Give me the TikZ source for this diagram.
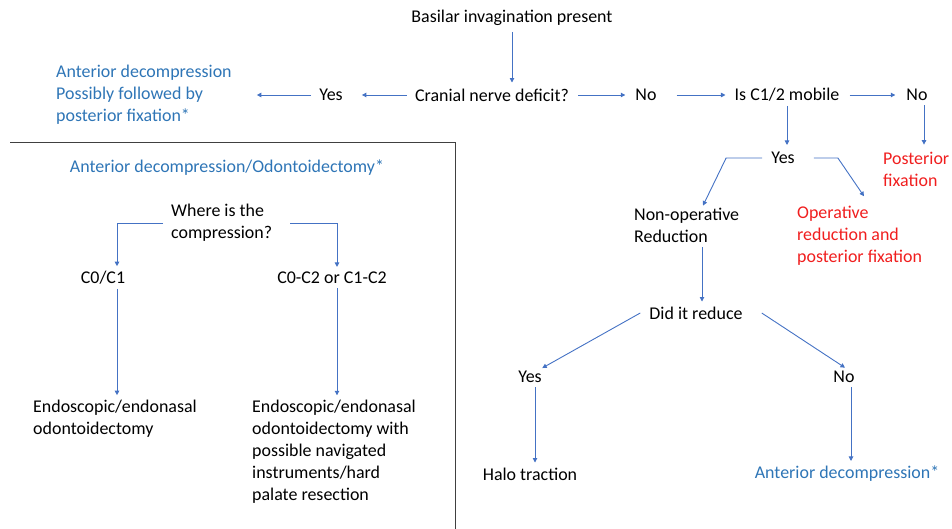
\documentclass[tikz,border=0pt]{standalone}
\usepackage{fontspec}
\setmainfont{Carlito}
\usepackage{tikz}
\usetikzlibrary{positioning, calc, arrows.meta}

\definecolor{arrowblue}{RGB}{68,114,196}
\definecolor{textblue}{RGB}{46,117,182}
\definecolor{textred}{RGB}{240,30,30}
\definecolor{boxgray}{RGB}{64,64,64}

\tikzset{
  txt/.style={inner sep=0pt, font=\fontsize{18}{22}\selectfont},
  multi/.style={txt, align=left, anchor=west},
  flow/.style={draw=arrowblue, line width=0.9bp, -{Triangle[length=4.5bp,width=4.5bp]}},
}

\begin{document}
\begin{tikzpicture}[x=1bp, y=-1bp]
\useasboundingbox (0,0) rectangle (952,529);

\node[txt] (basilar) at (512,18) {Basilar invagination present};
\node[txt] (cranial) at (492,95) {Cranial nerve deficit?};
\node[txt] (yesA) at (331,95) {Yes};
\node[multi, textblue] (antdecA) at (56,95) {Anterior decompression\\Possibly followed by\\posterior fixation*};
\node[txt] (noA) at (646,95) {No};
\node[txt] (mobile) at (787,95) {Is C1/2 mobile};
\node[txt] (noB) at (917,95) {No};
\node[txt] (yesB) at (783,158) {Yes};
\node[multi, textred] (postfix) at (883,169) {Posterior\\fixation};
\node[multi] (nonop) at (634,225) {Non-operative\\Reduction};
\node[multi, textred] (opred) at (797,236) {Operative\\reduction and\\posterior fixation};
\node[txt] (reduce) at (696,313) {Did it reduce};
\node[txt] (yesC) at (530,377) {Yes};
\node[txt] (noC) at (844,377) {No};
\node[txt] (halo) at (530,474) {Halo traction};
\node[txt, textblue] (antdecB) at (847,474) {Anterior decompression*};

\draw [boxgray, line width=1bp] (10,143) -- (455,143) -- (455,529);
\node[txt, textblue] (odont) at (227,168) {Anterior decompression/Odontoidectomy*};
\node[multi] (where) at (171,223) {Where is the\\compression?};
\node[txt] (cocone) at (103,278) {C0/C1};
\node[txt] (coctwo) at (332,278) {C0-C2 or C1-C2};
\node[multi] (endoA) at (33,419) {Endoscopic/endonasal\\odontoidectomy};
\node[multi] (endoB) at (252,452) {Endoscopic/endonasal\\odontoidectomy with\\possible navigated\\instruments/hard\\palate resection};

\draw [flow, shorten <=6bp, shorten >=6bp] (basilar.south -| 512,0) -- (basilar.south |- cranial.north);
\draw [flow, shorten <=8bp, shorten >=19bp] (cranial.west) -- (yesA.east);
\draw [flow, shorten <=8bp, shorten >=25bp] (yesA.west) -- (antdecA.east);
\draw [flow, shorten <=9bp, shorten >=10bp] (cranial.east) -- (noA.west);
\draw [flow, shorten <=20bp, shorten >=9bp] (noA.east) -- (mobile.west);
\draw [flow, shorten <=10bp, shorten >=11bp] (mobile.east) -- (noB.west);
\draw [flow, shorten <=4bp, shorten >=7bp] (mobile.south) -- (mobile.south |- yesB.north);
\draw [flow, shorten <=4bp, shorten >=7bp] ([xshift=7bp]noB.south) -- ([xshift=7bp]noB.south |- postfix.north);
\draw [flow] ([xshift=-9bp]yesB.west) -- ++(-36,0) -- ([xshift=69bp,yshift=2bp]nonop.north west);
\draw [flow] ([xshift=19bp]yesB.east) -- ++(24,0) -- ([xshift=67bp,yshift=10bp]opred.north west);
\draw [flow, shorten <=5bp, shorten >=5bp] ([xshift=68bp]nonop.south west) -- ([xshift=68bp]nonop.south west |- reduce.north);
\draw [flow, shorten >=6bp] ([xshift=-9bp]reduce.west) -- ([xshift=7bp]yesC.north);
\draw [flow, shorten >=6bp] ([xshift=19bp]reduce.east) -- ([xshift=6bp]noC.north);
\draw [flow, shorten <=4bp, shorten >=5bp] ([xshift=5bp]yesC.south) -- ([xshift=5bp]yesC.south |- halo.north);
\draw [flow, shorten <=4bp, shorten >=5bp] ([xshift=7bp]noC.south) -- ([xshift=7bp]noC.south |- antdecB.north);

\draw [flow, shorten >=5bp] ([xshift=-8bp]where.west) -| ([xshift=14bp]cocone.north);
\draw [flow, shorten >=5bp] ([xshift=18bp]where.east |- where.west) -| ([xshift=5bp]coctwo.north);
\draw [flow, shorten <=4bp, shorten >=5bp] ([xshift=14bp]cocone.south) -- ([xshift=14bp]cocone.south |- endoA.north);
\draw [flow, shorten <=4bp, shorten >=5bp] ([xshift=5bp]coctwo.south) -- ([xshift=5bp]coctwo.south |- endoB.north);
\end{tikzpicture}
\end{document}
